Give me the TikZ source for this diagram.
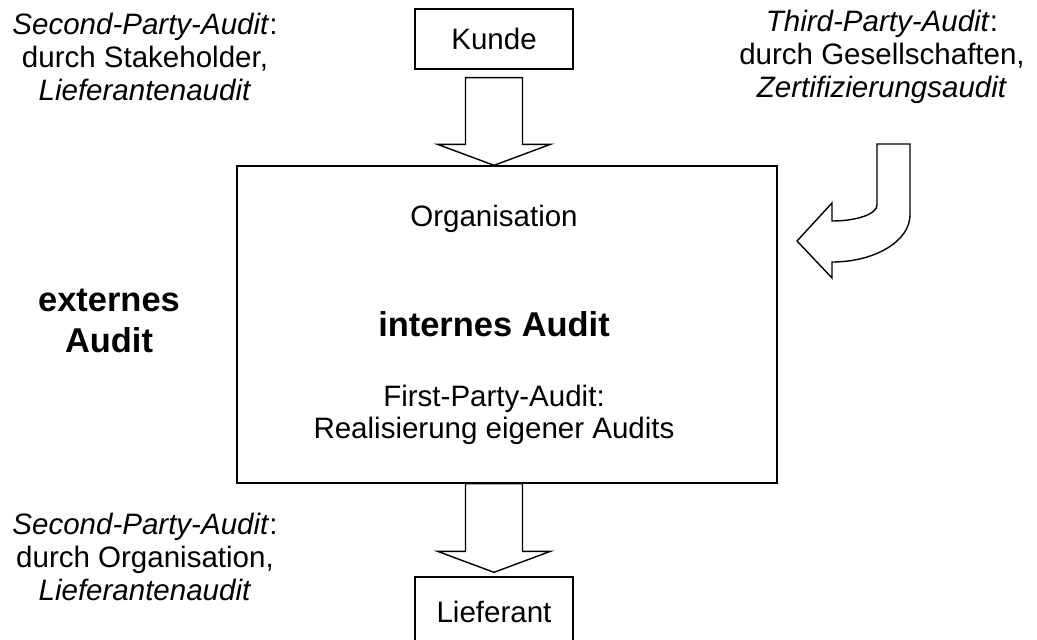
\documentclass[tikz,border=0pt]{standalone}
\usepackage{fontspec}
\setmainfont{Liberation Sans}
\usetikzlibrary{calc,positioning}
% hollow block arrow pointing down: #1 top of shaft, #2 tip
\newcommand{\blockdown}[2]{%
  \draw[blockarrow] ($(#1)+(-28.5,0)$) -- ($(#2)+(-28.5,-21)$) -- ($(#2)+(-56.5,-21)$) -- (#2)
    -- ($(#2)+(56.5,-21)$) -- ($(#2)+(28.5,-21)$) -- ($(#1)+(28.5,0)$) -- cycle;}

\begin{document}
\begin{tikzpicture}[x=0.02cm,y=-0.02cm,
    txt/.style={align=center,font=\fontsize{16.8}{18.6}\selectfont,inner sep=0pt},
    big/.style={align=center,font=\fontsize{19.6}{19.6}\selectfont\bfseries,inner sep=0pt},
    box/.style={draw,line width=0.8pt,inner sep=0pt},
    blockarrow/.style={draw,line width=0.8pt,fill=white,line join=miter}]
  \useasboundingbox (0,0) rectangle (1037,639);
  % boxes
  \node[box,txt,minimum width=3.16cm,minimum height=1.2cm] (kunde) at (494,39) {Kunde};
  \node[box,minimum width=10.8cm,minimum height=6.34cm] (org) at (507,324.5) {};
  \node[box,txt,minimum width=3.16cm,minimum height=1.4cm] (lief) at (494,612) {Lieferant};
  % texts
  \node[txt] (second) at (145,57) {\textit{Second-Party-Audit}:\\durch Stakeholder,\\\textit{Lieferantenaudit}};
  \node[txt] (third) at (882,57) {\textit{Third-Party-Audit}:\\durch Gesellschaften,\\\textit{Zertifizierungsaudit}};
  \node[txt] (secondb) at (145,557) {\textit{Second-Party-Audit}:\\durch Organisation,\\\textit{Lieferantenaudit}};
  \node[big] (extern) at (109,321) {externes\\[4pt]Audit};
  \node[txt] (orgname) at (494,219) {Organisation};
  \node[big] (intern) at (494,324) {internes Audit};
  \node[txt] (first) at (494,415) {First-Party-Audit:\\Realisierung eigener Audits};
  % arrows
  \coordinate (kundeout) at ($(kunde.south)+(0,8)$);
  \coordinate (orgin) at (kunde.south |- org.north);
  \blockdown{kundeout}{orgin}
  \coordinate (orgout) at (lief.north |- org.south);
  \coordinate (liefin) at ($(lief.north)+(0,-4)$);
  \blockdown{orgout}{liefin}
  % bent arrow of the third party
  \draw[blockarrow] (877,144) -- (910,144) -- (910,215)
    .. controls (910,241) and (875,262) .. (832,262)
    -- (832,278) -- (797,241) -- (832,203) -- (832,221)
    .. controls (857,221) and (877,214) .. (877,205) -- cycle;
\end{tikzpicture}
\end{document}
